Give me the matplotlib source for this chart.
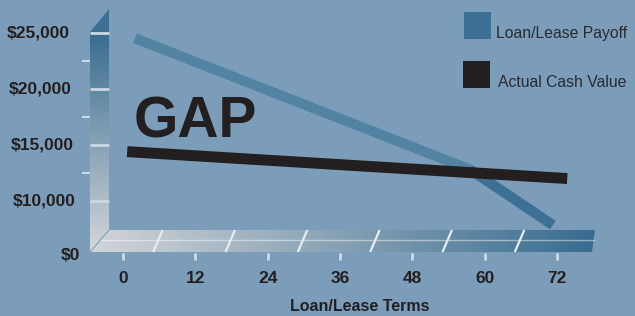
import numpy as np
import matplotlib
matplotlib.use('Agg')
import matplotlib.pyplot as plt
from matplotlib.patches import Polygon, Rectangle
from matplotlib import font_manager as fm
from matplotlib.transforms import blended_transform_factory
from matplotlib.colors import to_rgb

# ---------------- data ----------------
x_ticks = [0, 12, 24, 36, 48, 60, 72]
x_tick_labels = ['0', '12', '24', '36', '48', '60', '72']
y_ticks = [0, 10000, 15000, 20000, 25000]
y_tick_labels = ['$0', '$10,000', '$15,000', '$20,000', '$25,000']
y_minor_ticks = [12500, 17500, 22500]

payoff_months = [2.0, 57.6, 71.3]
payoff_values = [24500, 12800, 5300]
acv_months = [0.7, 73.7]
acv_values = [14400, 12000]

series_names = ['Loan/Lease Payoff', 'Actual Cash Value']
x_title = 'Loan/Lease Terms'
gap_label = 'GAP'

# ---------------- style ----------------
BG = '#7b9db9'
PAYOFF_LIGHT = '#5283a3'
PAYOFF_DARK = '#3c7094'
ACV_COLOR = '#231f20'
TEXT_DARK = '#231f20'
LEGEND_TEXT = '#2a2a30'
TICK_LIGHT = '#cfdbe6'

W, H = 635, 316
X0_PX = 123.0
X_PER_MONTH = (557.0 - 123.0) / 72.0

names = {f.name for f in fm.fontManager.ttflist}
NARROW = 'Liberation Sans Narrow' in names
BASE = ['Liberation Sans', 'DejaVu Sans']
COND = (['Liberation Sans Narrow'] + BASE) if NARROW else BASE


def fwd(v):
    v = np.asarray(v, dtype=float)
    return np.where(v >= 10000, 115.0 + (v - 10000) * 0.011222, 64.0 + v * 0.0051)


def inv(h):
    h = np.asarray(h, dtype=float)
    return np.where(h >= 115.0, 10000 + (h - 115.0) / 0.011222, (h - 64.0) / 0.0051)


fig = plt.figure(figsize=(W / 100, H / 100), dpi=100, facecolor=BG)

# decoration axes in pixel units (y down)
deco = fig.add_axes([0, 0, 1, 1], zorder=1)
deco.set_axis_off()

# data axes
ax = fig.add_axes([0, 0, 1, 1], zorder=2)
ax.set_axis_off()
ax.patch.set_alpha(0)
ax.set_yscale('function', functions=(fwd, inv))
ax.set_xlim(-X0_PX / X_PER_MONTH, (W - X0_PX) / X_PER_MONTH)
ax.set_ylim(float(inv(0)), float(inv(H)))


def to_px(m, v):
    d = ax.transData.transform((m, v))
    return d[0], H - d[1]


def grad(c1, c2, n=256, vertical=True):
    a = np.array(to_rgb(c1)); b = np.array(to_rgb(c2))
    t = np.linspace(0, 1, n)[:, None]
    arr = a + (b - a) * t
    return arr[:, None, :] if vertical else arr[None, :, :]


# ---- wall ----
wall_top, wall_bot = 32, 252
wall_l, wall_r = 90, 109
deco.imshow(grad('#386c90', '#d4d7da'), extent=(wall_l, wall_r, wall_bot, wall_top),
            aspect='auto', interpolation='bilinear', zorder=1)
deco.add_patch(Polygon([(wall_l, wall_top), (wall_r, wall_top), (wall_r, 9)],
                       closed=True, facecolor='#3d7093', edgecolor='none', zorder=1))

# ---- floor ----
floor_pts = [(90, 252), (109, 230), (595, 230), (592, 252)]
floor_patch = Polygon(floor_pts, closed=True, facecolor='none', edgecolor='none', zorder=2)
deco.add_patch(floor_patch)
im = deco.imshow(grad('#d2d5d8', '#386c90', vertical=False), extent=(90, 595, 252, 230),
                 aspect='auto', interpolation='bilinear', zorder=2)
im.set_clip_path(floor_patch)
deco.plot([101, 594], [240, 240], color='white', alpha=0.45, lw=1, zorder=3)
deco.plot([90, 109], [252, 230], color='#7d9fbb', lw=0.8, zorder=3)

# floor separators (between ticks)
for t in x_ticks[:-1]:
    bx, _ = to_px(t + 5, 0)
    deco.plot([bx, bx + 9.5], [252, 230], color='#e6ecf2', lw=1.6, zorder=3,
              solid_capstyle='butt')

# x tick marks
for t in x_ticks:
    px, _ = to_px(t, 0)
    deco.plot([px, px], [253, 260], color=TICK_LIGHT, lw=2, zorder=3, solid_capstyle='butt')

# wall tick lines
for v in y_ticks[1:]:
    _, py = to_px(0, v)
    deco.plot([wall_l, wall_r], [py, py], color='#c9d8e4', lw=2, zorder=3, solid_capstyle='butt')
for v in y_minor_ticks:
    _, py = to_px(0, v)
    deco.plot([82, wall_l], [py, py], color='#c9d8e4', lw=1.5, zorder=3, solid_capstyle='butt')

deco.set_xlim(0, W)
deco.set_ylim(H, 0)

# ---- series ----
ax.plot(payoff_months, payoff_values, color=PAYOFF_LIGHT, lw=7.2,
        solid_capstyle='butt', solid_joinstyle='miter', zorder=3)
ax.plot(payoff_months[1:], payoff_values[1:], color=PAYOFF_DARK, lw=7.2,
        solid_capstyle='butt', solid_joinstyle='miter', zorder=3.1)
ax.plot(acv_months, acv_values, color=ACV_COLOR, lw=7.9,
        solid_capstyle='butt', zorder=4)

# ---- tick labels ----
for v, lab in zip(y_ticks, y_tick_labels):
    _, py = to_px(0, v)
    rx = 80 - 10 * v / 25000
    deco.text(rx, py + (4 if v == 0 else 0), lab, ha='right', va='center', fontsize=12.5,
              fontweight='bold', family=BASE, color=TEXT_DARK, zorder=5)

xt = blended_transform_factory(ax.transData, deco.transData)
for t, lab in zip(x_ticks, x_tick_labels):
    ax.text(t, 283, lab, transform=xt, ha='center', va='baseline', fontsize=12.5,
            fontweight='bold', family=BASE, color=TEXT_DARK, zorder=5)

# axis title
if NARROW:
    deco.text(360, 311, x_title, ha='center', va='baseline', fontsize=14,
              fontweight='bold', family=COND, color=TEXT_DARK, zorder=5)
else:
    deco.text(360, 311, x_title, ha='center', va='baseline', fontsize=11.5,
              fontweight='bold', family=COND, color=TEXT_DARK, zorder=5)

# GAP label
deco.text(134, 138, gap_label, ha='left', va='baseline', fontsize=41, fontweight='bold',
          family=BASE, color=TEXT_DARK, zorder=5)

# ---- legend ----
leg_colors = [PAYOFF_DARK, ACV_COLOR]
leg_boxes = [(464, 12), (463, 61)]
leg_text = [(496, 38), (498, 87)]
lfs = 14 if NARROW else 11.3
for (bx, by), (tx, ty), c, name in zip(leg_boxes, leg_text, leg_colors, series_names):
    deco.add_patch(Rectangle((bx, by), 27, 27, facecolor=c, edgecolor='none', zorder=5))
    deco.text(tx, ty, name, ha='left', va='baseline', fontsize=lfs, family=COND,
              color=LEGEND_TEXT, zorder=5)

fig.savefig('out.png', dpi=100, facecolor=BG)
